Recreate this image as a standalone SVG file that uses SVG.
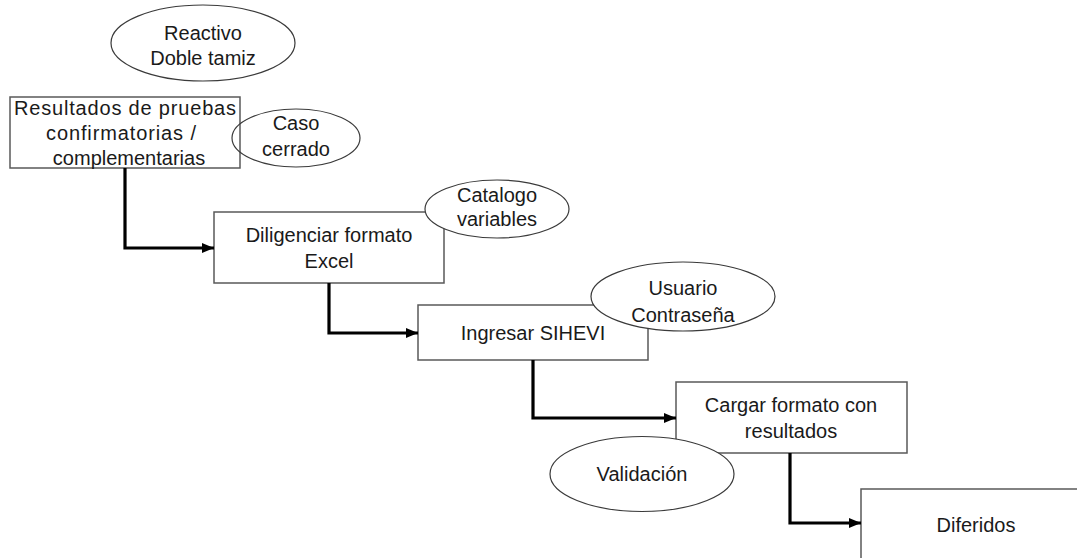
<svg xmlns="http://www.w3.org/2000/svg" width="1077" height="558" viewBox="0 0 1077 558">
<style>
.box{fill:#ffffff;stroke:#595959;stroke-width:1.5}
.oval{fill:#ffffff;stroke:#3a3a3a;stroke-width:1.2}
.open{fill:none}
.conn{fill:none;stroke:#000000;stroke-width:3.2;stroke-linejoin:miter}
text{font-family:"Liberation Sans",Arial,sans-serif;font-size:20px;fill:#1a1a1a;text-anchor:middle}
</style>
<defs>
<marker id="arr" markerUnits="userSpaceOnUse" markerWidth="12" markerHeight="12" viewBox="0 0 12 12" refX="12" refY="6" orient="auto">
<path d="M0,1 L12,6 L0,11 Z" fill="#000000"/>
</marker>
</defs>
<rect width="1077" height="558" fill="#ffffff"/>

<g id="n_reactivo">
<ellipse class="oval" cx="203" cy="43" rx="92" ry="38"/>
<text x="203" y="40">Reactivo</text>
<text x="203" y="65">Doble tamiz</text>
</g>

<g id="n_resultados">
<rect class="box" x="10" y="97" width="230" height="71"/>
<text x="125" y="115" textLength="222" lengthAdjust="spacing">Resultados de pruebas</text>
<text x="121" y="140" textLength="150" lengthAdjust="spacing">confirmatorias /</text>
<text x="129" y="165">complementarias</text>
</g>

<g id="n_caso">
<ellipse class="oval open" cx="296" cy="138" rx="64" ry="29"/>
<text x="296" y="130">Caso</text>
<text x="296" y="156">cerrado</text>
</g>

<g id="n_diligenciar">
<rect class="box" x="214" y="212" width="230" height="71"/>
<text x="329" y="242">Diligenciar formato</text>
<text x="329" y="268">Excel</text>
</g>

<g id="n_ingresar">
<rect class="box" x="418" y="305" width="230" height="55"/>
<text x="533" y="340">Ingresar SIHEVI</text>
</g>

<g id="n_cargar">
<rect class="box" x="676" y="382" width="231" height="71"/>
<text x="791" y="412">Cargar formato con</text>
<text x="791" y="438">resultados</text>
</g>

<g id="n_diferidos">
<rect class="box" x="861" y="489" width="230" height="71"/>
<text x="976" y="532">Diferidos</text>
</g>

<g id="connectors">
<path class="conn" d="M125,168 V248 H214" marker-end="url(#arr)"/>
<path class="conn" d="M329,283 V333 H418" marker-end="url(#arr)"/>
<path class="conn" d="M533,360 V418 H676" marker-end="url(#arr)"/>
<path class="conn" d="M790,453 V523 H861" marker-end="url(#arr)"/>
</g>

<g id="n_catalogo">
<ellipse class="oval" cx="497" cy="209" rx="72" ry="29"/>
<text x="497" y="202">Catalogo</text>
<text x="497" y="226">variables</text>
</g>

<g id="n_usuario">
<ellipse class="oval" cx="683" cy="296.5" rx="92" ry="34.5"/>
<text x="683" y="295">Usuario</text>
<text x="683" y="322">Contraseña</text>
</g>

<g id="n_validacion">
<ellipse class="oval" cx="642" cy="474" rx="92" ry="37.5"/>
<text x="642" y="481">Validación</text>
</g>
</svg>
